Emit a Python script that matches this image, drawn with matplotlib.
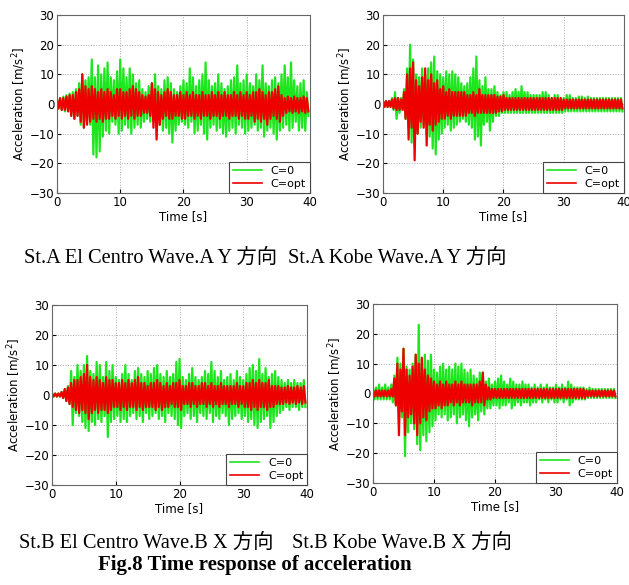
import numpy as np
import matplotlib.pyplot as plt

# peak readings every 0.5 s (upper / lower envelope), 0 .. 39.5 s
# St.A El Centro Y
a_el_green_up = [2, 1.5, 2.5, 3, 3.5, 4, 5, 7, 10, 8,
                 9, 15, 9, 13, 10, 12, 14, 9, 8, 11,
                 15, 12, 9, 12, 10, 7, 8, 5, 4, 6,
                 7, 10, 6, 5, 8, 9, 7, 5, 4, 6,
                 8, 7, 12, 9, 6, 8, 10, 14, 8, 6,
                 7, 10, 7, 5, 6, 8, 9, 13, 7, 8,
                 10, 7, 6, 10, 8, 13, 7, 6, 8, 9,
                 7, 10, 13, 9, 14, 8, 6, 7, 8, 4]
a_el_green_dn = [-1.5, -2, -2.5, -2, -4, -5, -4, -7, -8, -6,
                 -7, -17, -18, -16, -11, -9, -10, -6, -7, -10,
                 -9, -7, -8, -10, -8, -7, -8, -6, -5, -6,
                 -5, -8, -7, -9, -8, -10, -13, -9, -7, -6,
                 -7, -8, -6, -10, -9, -7, -10, -12, -8, -7,
                 -9, -8, -10, -11, -9, -8, -10, -7, -8, -10,
                 -9, -8, -7, -9, -8, -11, -9, -8, -10, -12,
                 -9, -8, -7, -9, -8, -6, -9, -8, -9, -4]
a_el_red_up = [1.5, 2, 2, 2.5, 3, 3, 4, 5, 10, 6,
               5, 6, 5, 4, 5, 4, 5, 4, 3, 5,
               5, 4, 4, 5, 6, 5, 4, 3, 2.5, 3,
               7, 5, 4, 3, 4, 5, 4, 3, 3, 4,
               3, 4, 3, 4, 3, 3, 4, 3, 3, 4,
               3, 4, 3, 4, 3, 3, 4, 3, 4, 3,
               4, 3, 4, 4, 5, 4, 3, 4, 4, 5,
               6, 3, 2, 2.5, 2, 2.5, 2, 2, 2.5, 2]
a_el_red_dn = [-1.5, -2, -2, -2.5, -4, -5, -4, -6, -8, -7,
               -6, -5, -6, -5, -6, -5, -5, -4, -5, -4,
               -5, -4, -5, -4, -5, -4, -4, -3, -3, -4,
               -8, -12, -7, -5, -4, -5, -5, -4, -4, -5,
               -5, -4, -4, -5, -4, -5, -4, -4, -5, -4,
               -4, -5, -4, -4, -5, -4, -4, -5, -4, -5,
               -5, -4, -6, -5, -6, -5, -7, -5, -4, -5,
               -6, -4, -3, -2.5, -3, -2.5, -3, -2.5, -3, -2.5]

# St.A Kobe Y
a_kb_green_up = [1, 1, 1, 2, 4, 2, 2, 5, 12, 20,
                 15, 10, 9, 12, 10, 12, 14, 16, 11, 10,
                 9, 11, 10, 11, 10, 9, 7, 6, 7, 9,
                 12, 16, 8, 6, 9, 5, 5, 6, 4, 3,
                 4, 4, 3, 4, 5, 4, 6, 4, 4, 3,
                 3, 3, 3, 4, 4, 3, 2, 3, 3, 2,
                 2, 3, 3, 2, 2, 2.5, 2.5, 2, 2.5, 2,
                 2, 2, 2, 2, 2, 2, 2, 2, 2, 2]
a_kb_green_dn = [-1, -1, -1, -2, -5, -3, -2, -5, -8, -13,
                 -14, -10, -8, -7, -10, -11, -15, -17, -12, -10,
                 -8, -7, -9, -8, -7, -6, -5, -6, -7, -8,
                 -12, -11, -14, -7, -6, -9, -6, -4, -4, -3,
                 -3, -3, -3, -3, -3, -3, -3, -3, -3, -3,
                 -3, -3, -3, -3, -3, -3, -3, -3, -3, -3,
                 -2.5, -2.5, -2.5, -2.5, -2.5, -2.5, -2.5, -2.5, -2.5, -2.5,
                 -2.5, -2.5, -2.5, -2.5, -2.5, -2.5, -2.5, -2.5, -2.5, -2.5]
a_kb_red_up = [1, 1, 1, 1.5, 2, 2, 1.5, 4, 10, 12,
               14, 8, 6, 9, 12, 8, 10, 7, 8, 5,
               6, 4, 5, 4, 4, 4, 4, 4, 3, 3,
               4, 3, 5, 3, 3, 3, 3, 3, 2.5, 2.5,
               3, 2, 2, 2, 2, 2, 2, 2, 2, 2,
               2, 2, 2, 2, 2, 2, 2, 2, 2, 2,
               1.5, 1.5, 1.5, 1.5, 1.5, 1.5, 1.5, 1.5, 1.5, 1.5,
               1.5, 1.5, 1.5, 1.5, 1.5, 1.5, 1.5, 1.5, 1.5, 1.5]
a_kb_red_dn = [-1, -1, -1, -1.5, -2, -2, -2, -5, -12, -8,
               -19, -10, -6, -8, -14, -7, -9, -7, -6, -5,
               -5, -4, -5, -4, -4, -4, -4, -4, -3, -3,
               -4, -3, -3, -3, -3, -3, -3, -3, -2.5, -2.5,
               -2, -2, -2, -2, -2, -2, -2, -2, -2, -2,
               -2, -2, -2, -2, -2, -2, -2, -2, -2, -2,
               -1.5, -1.5, -1.5, -1.5, -1.5, -1.5, -1.5, -1.5, -1.5, -1.5,
               -1.5, -1.5, -1.5, -1.5, -1.5, -1.5, -1.5, -1.5, -1.5, -1.5]

# St.B El Centro X
b_el_green_up = [0.5, 0.5, 0.5, 1, 2, 3, 8, 6, 10, 8,
                 10, 13, 8, 7, 11, 10, 6, 11, 8, 10,
                 6, 5, 7, 10, 7, 5, 8, 9, 7, 6,
                 8, 7, 9, 10, 7, 6, 8, 6, 7, 11,
                 12, 6, 5, 7, 9, 6, 5, 6, 8, 7,
                 11, 8, 6, 8, 5, 6, 7, 5, 8, 6,
                 5, 7, 9, 10, 8, 12, 7, 9, 6, 7,
                 8, 6, 5, 4, 5, 4, 5, 4, 4, 5]
b_el_green_dn = [-0.5, -0.5, -0.5, -1, -2, -3, -10, -6, -7, -9,
                 -11, -12, -9, -10, -8, -9, -7, -14, -9, -8,
                 -7, -9, -8, -9, -7, -6, -8, -7, -9, -6,
                 -8, -7, -6, -8, -7, -9, -6, -7, -8, -10,
                 -11, -7, -6, -8, -7, -9, -6, -7, -8, -6,
                 -9, -7, -8, -6, -7, -10, -8, -7, -6, -8,
                 -7, -9, -8, -10, -11, -9, -8, -7, -11, -9,
                 -7, -6, -5, -4, -5, -4, -4, -5, -4, -4]
b_el_red_up = [0.5, 0.5, 0.5, 1, 2, 2.5, 4, 5, 5, 6,
               7, 10, 6, 5, 6, 5, 4, 6, 5, 5,
               4, 4, 5, 4, 5, 4, 5, 6, 4, 4,
               3, 4, 4, 5, 4, 3, 4, 3, 4, 4,
               5, 3, 3, 4, 4, 3, 3, 4, 4, 3,
               4, 3, 3, 4, 3, 3, 3, 3, 4, 3,
               3, 4, 4, 5, 4, 5, 4, 4, 5, 3,
               3, 3, 2.5, 2.5, 3, 2.5, 2.5, 3, 2.5, 3]
b_el_red_dn = [-0.5, -0.5, -0.5, -1, -2, -3, -4, -5, -6, -5,
               -6, -8, -6, -5, -6, -5, -5, -6, -5, -4,
               -4, -5, -4, -5, -4, -4, -5, -4, -5, -4,
               -4, -4, -5, -4, -5, -4, -4, -3, -4, -4,
               -5, -3, -3, -4, -3, -4, -3, -3, -4, -3,
               -4, -3, -4, -3, -3, -4, -3, -3, -4, -3,
               -4, -4, -5, -4, -5, -4, -4, -5, -4, -4,
               -3, -3, -3, -2.5, -3, -2.5, -3, -2.5, -3, -2.5]

# St.B Kobe X
b_kb_green_up = [2, 2, 3, 2, 3, 2, 3, 6, 12, 10,
                 15, 9, 8, 10, 13, 23, 10, 13, 11, 13,
                 8, 7, 9, 10, 8, 9, 8, 10, 9, 10,
                 8, 7, 8, 6, 5, 7, 7, 4, 5, 3,
                 4, 5, 6, 4, 3, 5, 4, 3, 3, 4,
                 3, 3, 2, 3, 2, 3, 2, 3, 2, 2,
                 3, 2, 3, 2, 4, 3, 2, 2, 2, 2,
                 1.5, 2, 1.5, 1.5, 1.5, 1.5, 1.5, 1.5, 1.5, 1.5]
b_kb_green_dn = [-2, -2, -2, -2, -2, -2, -3, -4, -10, -8,
                 -21, -13, -10, -12, -17, -19, -14, -16, -13, -11,
                 -9, -7, -8, -7, -9, -8, -7, -10, -8, -7,
                 -9, -11, -8, -7, -9, -6, -7, -5, -5, -4,
                 -4, -5, -4, -4, -3, -5, -4, -3, -4, -3,
                 -3, -4, -3, -3, -2, -3, -2, -3, -2, -3,
                 -3, -2, -3, -2, -4, -3, -2, -2, -2, -2,
                 -1.5, -1.5, -1.5, -1.5, -1.5, -1.5, -1.5, -1.5, -1.5, -1.5]
b_kb_red_up = [1, 1, 1, 1, 1, 1, 1.5, 5, 10, 8,
               15, 8, 6, 9, 13, 10, 12, 8, 6, 5,
               4, 3, 4, 3, 4, 3, 3, 4, 3, 4,
               3, 3, 3, 3, 3, 4, 7, 3, 2, 1.5,
               1.5, 1.5, 1.5, 1.5, 1.5, 1.5, 1.5, 1.5, 1.5, 1.5,
               1.5, 1.5, 1.5, 1.5, 1.5, 1.5, 1.5, 1.5, 1.5, 1.5,
               1.5, 1.5, 1.5, 1.5, 1.5, 1.5, 1.5, 1.5, 1.5, 1.5,
               1, 1, 1, 1, 1, 1, 1, 1, 1, 1]
b_kb_red_dn = [-1, -1, -1, -1, -1, -1, -1, -4, -14, -6,
               -14, -8, -7, -10, -14, -10, -8, -9, -6, -5,
               -5, -4, -5, -4, -4, -3, -4, -3, -4, -3,
               -3, -3, -4, -3, -3, -3, -4, -2, -2, -1.5,
               -1.5, -1.5, -1.5, -1.5, -1.5, -1.5, -1.5, -1.5, -1.5, -1.5,
               -1.5, -1.5, -1.5, -1.5, -1.5, -1.5, -1.5, -1.5, -1.5, -1.5,
               -1.5, -1.5, -1.5, -1.5, -1.5, -1.5, -1.5, -1.5, -1.5, -1.5,
               -1, -1, -1, -1, -1, -1, -1, -1, -1, -1]

captions = ["St.A El Centro Wave.A Y 方向", "St.A Kobe Wave.A Y 方向",
            "St.B El Centro Wave.B X 方向", "St.B Kobe Wave.B X 方向"]
title = "Fig.8 Time response of acceleration"

panels = [
    (a_el_green_up, a_el_green_dn, a_el_red_up, a_el_red_dn),
    (a_kb_green_up, a_kb_green_dn, a_kb_red_up, a_kb_red_dn),
    (b_el_green_up, b_el_green_dn, b_el_red_up, b_el_red_dn),
    (b_kb_green_up, b_kb_green_dn, b_kb_red_up, b_kb_red_dn),
]
positions = [
    [0.0906, 0.6701, 0.4022, 0.3043],
    [0.6089, 0.6701, 0.3831, 0.3043],
    [0.0827, 0.1709, 0.4054, 0.3077],
    [0.5930, 0.1744, 0.3879, 0.3060],
]

def zigzag(up, dn):
    # upper peak then lower peak, 0.25 s apart
    y = np.empty(2 * len(up))
    y[0::2] = up
    y[1::2] = dn
    t = np.arange(len(y)) * 0.25
    return t, y

plt.rcParams['font.family'] = ['DejaVu Sans']
fig = plt.figure(figsize=(6.29, 5.85), dpi=100)

for (gu, gd, ru, rd), pos in zip(panels, positions):
    ax = fig.add_axes(pos)
    tg, yg = zigzag(gu, gd)
    tr, yr = zigzag(ru, rd)
    ax.plot(tg, yg, color='#1ee61e', lw=1.6, label='C=0')
    ax.plot(tr, yr, color='#ee0000', lw=1.6, label='C=opt')
    ax.set_xlim(0, 40)
    ax.set_ylim(-30, 30)
    ax.set_xticks([0, 10, 20, 30, 40])
    ax.set_yticks([-30, -20, -10, 0, 10, 20, 30])
    ax.grid(True, linestyle=':', color='#aaaaaa', lw=0.7)
    ax.tick_params(direction='in', labelsize=8.5, length=3, pad=2)
    for s in ax.spines.values():
        s.set_color('#666666')
        s.set_linewidth(0.8)
    ax.set_xlabel('Time [s]', fontsize=8.5, labelpad=1)
    ax.set_ylabel('Acceleration [m/s$^2$]', fontsize=8.5, labelpad=1)
    leg = ax.legend(loc='lower right', fontsize=8, fancybox=False,
                    framealpha=1, edgecolor='#444444', borderpad=0.35,
                    handlelength=2.6, borderaxespad=0.0, labelspacing=0.25)
    leg.get_frame().set_linewidth(0.8)
    for line in leg.get_lines():
        line.set_linewidth(1.2)

cap_font = ['Liberation Serif', 'Noto Sans CJK JP']
fig.text(151 / 629, 0.559, captions[0], ha='center', va='center', fontsize=14.7, family=cap_font)
fig.text(397 / 629, 0.559, captions[1], ha='center', va='center', fontsize=14.7, family=cap_font)
fig.text(146 / 629, 0.072, captions[2], ha='center', va='center', fontsize=14.7, family=cap_font)
fig.text(402 / 629, 0.072, captions[3], ha='center', va='center', fontsize=14.7, family=cap_font)
fig.text(255 / 629, 0.034, title, ha='center', va='center', fontsize=15,
         family='Liberation Serif', weight='bold')

fig.savefig('out.png', dpi=100)
